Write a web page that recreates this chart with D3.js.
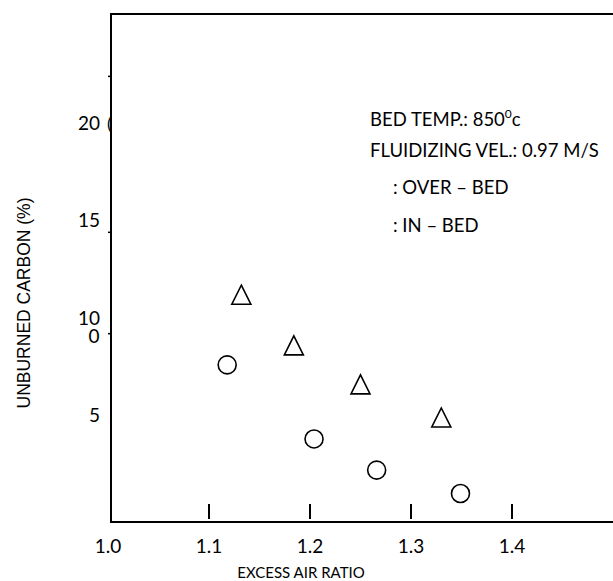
<!DOCTYPE html>
<html>
<head>
<meta charset="utf-8">
<script src="https://cdn.jsdelivr.net/npm/d3@7"></script>
<style>
  body { margin: 0; background: #fff; }
  text { font-family: Lato, "Open Sans", sans-serif; fill: #000; }
</style>
</head>
<body>
<div id="wrapper"></div>
<script>
// values
const overBedRatio = [1.132, 1.184, 1.250, 1.330]
const overBedCarbon = [11.2, 8.6, 6.6, 4.9]
const inBedRatio = [1.118, 1.204, 1.266, 1.349]
const inBedCarbon = [7.6, 3.8, 2.2, 1.0]
const xTickLabels = [1.0, 1.1, 1.2, 1.3, 1.4]
const xTickMarks = [1.1, 1.2, 1.3, 1.4]
const yTickLabels = [5, 10, 15, 20]
const yTickMarks = [22.4, 14.4, 9.2]   // the stubs on the axis sit off the labels in the original
const notes = ["FLUIDIZING VEL.: 0.97 M/S", ": OVER \u2013 BED", ": IN \u2013 BED"]

// triangle as tall as it is wide, centred on its box
const tallTriangle = {
    draw: function(context, size) {
        const h = Math.sqrt(size) / 2
        context.moveTo(0, -h)
        context.lineTo(h, h)
        context.lineTo(-h, h)
        context.closePath()
    }
}

function drawChart() {
    const width = 613
    const height = 581
    const left = 111, top = 14, bottom = 522

    const svg = d3.select("#wrapper").append("svg")
        .attr("width", width)
        .attr("height", height)

    const x = d3.scaleLinear().domain([1.0, 1.4]).range([108, 512])
    const y = d3.scaleLinear().domain([0, 25.6]).range([513, top])

    // frame: left, top and bottom lines only
    svg.append("path")
        .attr("d", "M" + width + "," + top + "H" + left + "V" + bottom + "H" + width)
        .attr("fill", "none")
        .attr("stroke", "#000")
        .attr("stroke-width", 2)

    // x ticks point up into the plot
    svg.append("g").selectAll("line")
        .data(xTickMarks)
        .enter().append("line")
        .attr("x1", d => x(d)).attr("x2", d => x(d))
        .attr("y1", bottom - 18).attr("y2", bottom - 3)
        .attr("stroke", "#000")
        .attr("stroke-width", 2)

    svg.append("g").selectAll("text")
        .data(xTickLabels)
        .enter().append("text")
        .attr("x", d => x(d))
        .attr("y", bottom + 31)
        .attr("text-anchor", "middle")
        .style("font-size", "19px")
        .text(d => d.toFixed(1))

    // y ticks
    svg.append("g").selectAll("line")
        .data(yTickMarks)
        .enter().append("line")
        .attr("x1", left - 3).attr("x2", left)
        .attr("y1", d => y(d)).attr("y2", d => y(d))
        .attr("stroke", "#000")
        .attr("stroke-width", 1.5)

    svg.append("g").selectAll("text")
        .data(yTickLabels)
        .enter().append("text")
        .attr("x", 100)
        .attr("y", d => y(d))
        .attr("dy", "0.35em")
        .attr("text-anchor", "end")
        .style("font-size", "19px")
        .text(d => d)

    // stray glyphs left over in the original
    svg.append("text")
        .attr("x", 94).attr("y", y(10) + 25)
        .attr("text-anchor", "middle")
        .style("font-size", "19px")
        .text("0")
    svg.append("text")
        .attr("x", 107).attr("y", y(20) + 7)
        .style("font-size", "18px")
        .text("(")

    // axis titles
    svg.append("text")
        .attr("x", 301)
        .attr("y", 578)
        .attr("text-anchor", "middle")
        .style("font-size", "15px")
        .text("EXCESS AIR RATIO")
    svg.append("text")
        .attr("transform", "translate(30,303) rotate(-90)")
        .attr("text-anchor", "middle")
        .style("font-family", "'Liberation Sans', Arial, sans-serif")
        .style("font-size", "17.5px")
        .text("UNBURNED CARBON (%)")

    // notes
    const t = svg.append("text")
        .attr("x", 370).attr("y", 126)
        .style("font-size", "18.5px")
    t.append("tspan").text("BED TEMP.: 850")
    t.append("tspan").attr("dy", -8).style("font-size", "12px").text("0")
    t.append("tspan").attr("dy", 8).text("c")

    svg.append("g").selectAll("text")
        .data(notes)
        .enter().append("text")
        .attr("x", (d, i) => i == 0 ? 370 : 393)
        .attr("y", (d, i) => [157, 194, 232][i])
        .style("font-size", "18.5px")
        .text(d => d)

    // markers
    const overBed = overBedRatio.map((r, i) => ({X: r, Y: overBedCarbon[i]}))
    const inBed = inBedRatio.map((r, i) => ({X: r, Y: inBedCarbon[i]}))

    svg.append("g").selectAll("path")
        .data(overBed)
        .enter().append("path")
        .attr("d", d3.symbol(tallTriangle, 361))
        .attr("transform", d => "translate(" + x(d.X) + "," + y(d.Y) + ")")
        .attr("fill", "none")
        .attr("stroke", "#000")
        .attr("stroke-width", 1.6)
        .attr("stroke-linejoin", "miter")

    svg.append("g").selectAll("circle")
        .data(inBed)
        .enter().append("circle")
        .attr("cx", d => x(d.X))
        .attr("cy", d => y(d.Y))
        .attr("r", 9)
        .attr("fill", "none")
        .attr("stroke", "#000")
        .attr("stroke-width", 1.6)
}
drawChart()
</script>
</body>
</html>
